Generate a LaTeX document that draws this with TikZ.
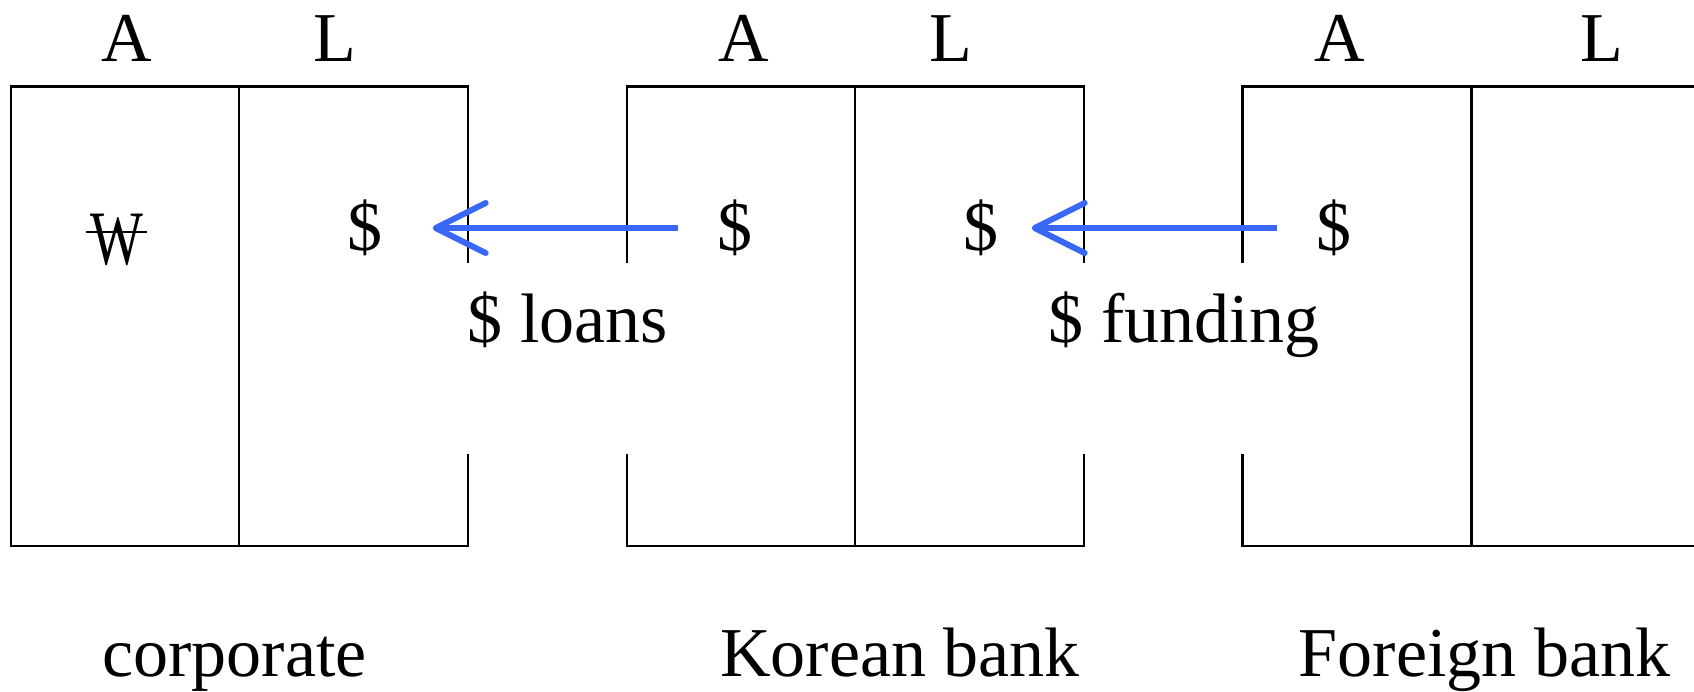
\documentclass[tikz,border=0pt]{standalone}
\usepackage{fontspec}
\setmainfont{Liberation Serif}
\usetikzlibrary{arrows.meta}
\definecolor{flowblue}{RGB}{59,103,245}
\newcommand{\wonsign}{\ooalign{\hidewidth\scalebox{0.8}[1.1]{W}\hidewidth\cr\rule[0.44em]{0.87em}{0.038em}\cr}}
\begin{document}
\begin{tikzpicture}[x=1pt,y=-1pt,
  lbl/.style={font=\fontsize{70}{82}\selectfont, inner sep=0pt, anchor=base},
  cell/.style={font=\fontsize{70}{82}\selectfont, inner sep=0pt},
  boxline/.style={line width=2.2pt},
  flow/.style={draw=flowblue, line width=6pt,
    -{Straight Barb[length=50pt,width=50pt,round]}}]
\clip (0,0) rectangle (1694,691);
% box 1 (corporate)
\draw[boxline] (467.8,262.5) -- (467.8,86.4) -- (10.8,86.4) -- (10.8,545.6) -- (467.8,545.6) -- (467.8,453.8);
\draw[boxline] (238.8,86.4) -- (238.8,545.6);
% box 2 (Korean bank)
\draw[boxline] (626.6,262.5) -- (626.6,86.4) -- (1083.6,86.4) -- (1083.6,262.5);
\draw[boxline] (626.6,453.8) -- (626.6,545.6) -- (1083.6,545.6) -- (1083.6,453.8);
\draw[boxline] (855.2,86.4) -- (855.2,545.6);
% box 3 (Foreign bank)
\draw[boxline] (1242.5,262.5) -- (1242.5,86.4) -- (1710,86.4);
\draw[boxline] (1242.5,453.8) -- (1242.5,545.6) -- (1710,545.6);
\draw[boxline] (1471.5,86.4) -- (1471.5,545.6);
% column headers
\node[lbl] (a1) at (126.4,61.6) {A};
\node[lbl] (l1) at (335,61.6) {L};
\node[lbl] (a2) at (744,61.6) {A};
\node[lbl] (l2) at (951,61.6) {L};
\node[lbl] (a3) at (1340,61.6) {A};
\node[lbl] (l3) at (1602,61.6) {L};
% contents
\node[lbl] (w1) at (116.5,264) {\wonsign};
\node[cell] (d1l) at (365,228) {\$};
\node[cell] (d2a) at (734.7,228) {\$};
\node[cell] (d2l) at (981,228) {\$};
\node[cell] (d3a) at (1334,228) {\$};
% flows
\draw[flow, shorten <=39pt, shorten >=50pt] (d2a.west) -- (d1l.east);
\draw[flow, shorten <=39pt, shorten >=33pt] (d3a.west) -- (d2l.east);
\node[lbl] (loans) at (568,342.5) {\$ loans};
\node[lbl] (funding) at (1184,342.5) {\$ funding};
% entity names
\node[lbl] (corp) at (234.5,676) {corporate};
\node[lbl] (kb) at (900,676) {Korean bank};
\node[lbl] (fb) at (1484.5,676) {Foreign bank};
\end{tikzpicture}
\end{document}
